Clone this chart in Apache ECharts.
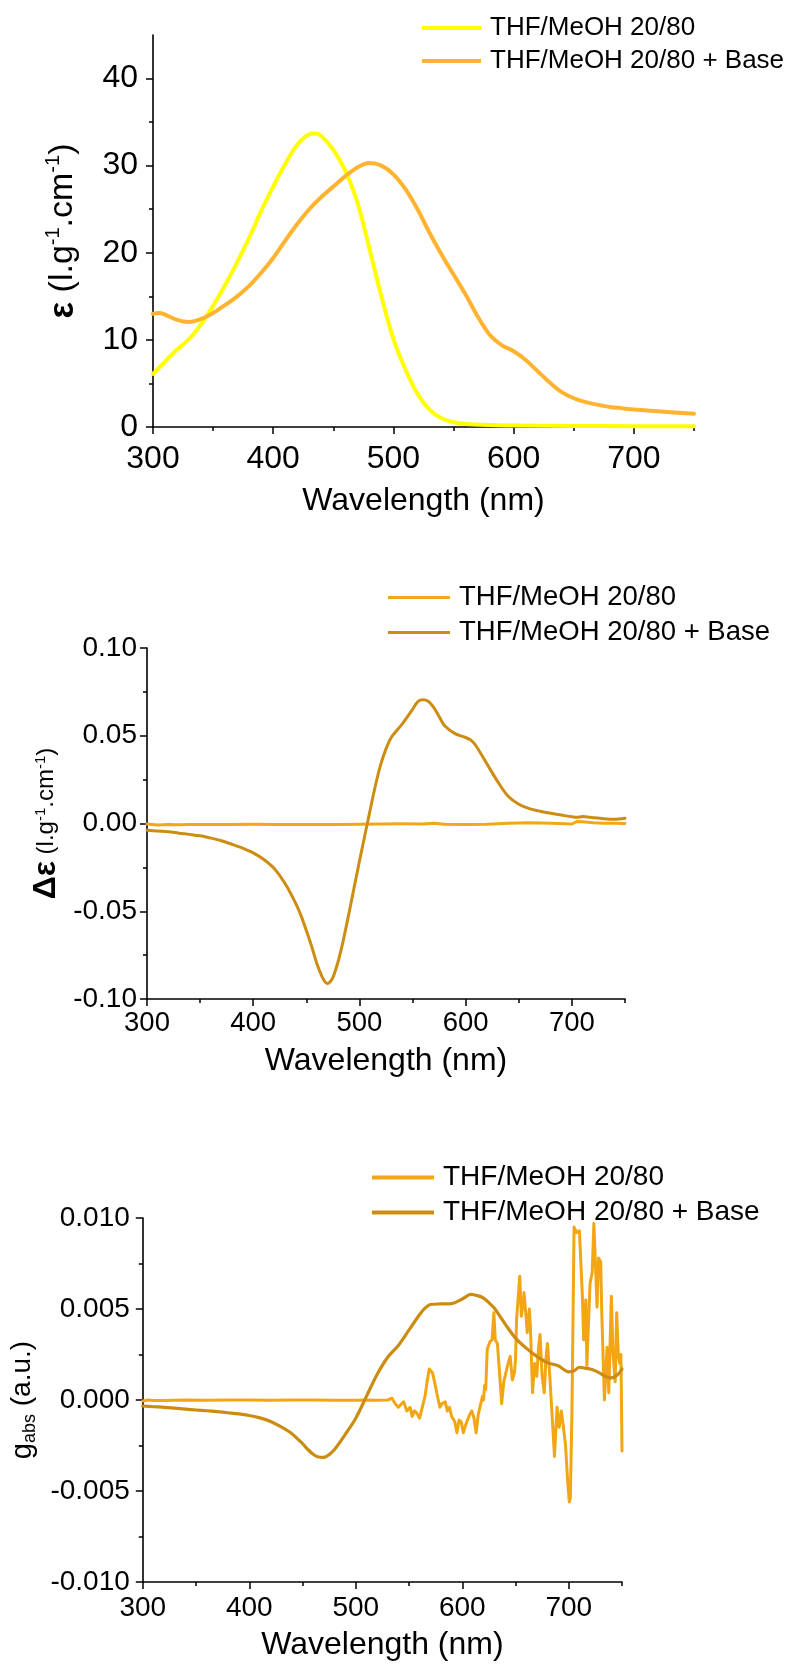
<!DOCTYPE html>
<html>
<head>
<meta charset="utf-8">
<title>Absorption, CD and g-factor spectra</title>
<script src="https://cdn.jsdelivr.net/npm/echarts@6/dist/echarts.min.js"></script>
<style>
  html, body { margin: 0; padding: 0; background: #fff; }
  body { width: 790px; height: 1670px; position: relative; overflow: hidden; }
  .panel { position: absolute; left: 0; width: 790px; }
  #absPanel { top: 0; height: 540px; }
  #cdPanel { top: 540px; height: 560px; }
  #gPanel { top: 1100px; height: 570px; }
</style>
</head>
<body>
<div id="absPanel" class="panel"></div>
<div id="cdPanel" class="panel"></div>
<div id="gPanel" class="panel"></div>
<script>
// ---------- series names ----------
const nameNeutral = 'THF/MeOH 20/80';
const nameBase = 'THF/MeOH 20/80 + Base';

// ---------- axis ticks ----------
const wlMajorTicks = [300, 400, 500, 600, 700];
const wlMinorTicks = [350, 450, 550, 650, 750];
const absMajorTicks = [0, 10, 20, 30, 40];
const absMinorTicks = [5, 15, 25, 35];
const cdMajorTicks = [-0.1, -0.05, 0, 0.05, 0.1];
const cdMinorTicks = [-0.075, -0.025, 0.025, 0.075];
const gMajorTicks = [-0.01, -0.005, 0, 0.005, 0.01];
const gMinorTicks = [-0.0075, -0.0025, 0.0025, 0.0075];

// ---------- absorption (epsilon, l.g-1.cm-1) ----------
const absWlNeutral = [300, 310, 320, 330, 340, 350, 360, 370, 380, 390, 400, 410, 420, 430, 435, 440, 450, 460, 470, 480, 490, 500, 510, 520, 530, 540, 550, 560, 580, 600, 650, 700, 750];
const absNeutral = [6.1, 7.5, 8.9, 10.1, 11.8, 13.9, 16.3, 18.9, 21.7, 24.8, 27.6, 30.2, 32.4, 33.6, 33.7, 33.4, 31.8, 29.4, 25.8, 20.5, 15.0, 10.1, 6.6, 3.8, 2.0, 1.0, 0.55, 0.35, 0.22, 0.18, 0.12, 0.1, 0.1];
const absWlBase = [300, 305, 310, 320, 330, 340, 350, 360, 370, 380, 390, 400, 410, 420, 430, 440, 450, 460, 470, 480, 490, 500, 510, 520, 530, 540, 550, 560, 570, 580, 590, 600, 610, 620, 630, 640, 650, 660, 670, 680, 690, 700, 720, 740, 750];
const absBase = [13.0, 13.1, 12.9, 12.3, 12.05, 12.4, 13.1, 14.0, 15.0, 16.2, 17.7, 19.4, 21.4, 23.3, 25.0, 26.4, 27.6, 28.8, 29.8, 30.3, 30.0, 29.0, 27.3, 25.0, 22.3, 19.8, 17.5, 15.2, 12.7, 10.6, 9.4, 8.7, 7.7, 6.4, 5.1, 4.0, 3.3, 2.85, 2.55, 2.3, 2.15, 2.0, 1.8, 1.6, 1.53];

// ---------- circular dichroism (delta epsilon) ----------
const cdWlNeutral = [300, 310, 320, 330, 340, 360, 380, 400, 420, 440, 460, 480, 500, 520, 540, 560, 570, 580, 600, 620, 640, 660, 680, 700, 705, 710, 720, 730, 740, 750];
const cdNeutral = [-0.0003, -0.0008, -0.0006, -0.0007, -0.0006, -0.0005, -0.0005, -0.0004, -0.0005, -0.0006, -0.0006, -0.0005, -0.0004, -0.0003, -0.0002, -0.0003, 0.0002, -0.0004, -0.0005, -0.0004, 0.0002, 0.0004, 0.0002, -0.0003, 0.0012, 0.0010, 0.0004, 0.0002, 0.0001, 0.0000];
const cdWlBase = [300, 310, 320, 330, 340, 350, 360, 370, 380, 390, 400, 410, 420, 430, 440, 445, 450, 455, 460, 465, 468, 470, 472, 475, 480, 485, 490, 495, 500, 505, 510, 515, 520, 525, 530, 540, 550, 555, 560, 565, 570, 575, 580, 590, 600, 605, 610, 620, 630, 640, 650, 660, 670, 680, 690, 700, 705, 710, 720, 730, 740, 750];
const cdBase = [-0.0038, -0.0043, -0.0047, -0.0055, -0.0062, -0.0070, -0.0083, -0.0098, -0.0118, -0.0140, -0.0167, -0.0205, -0.0258, -0.0342, -0.0455, -0.0525, -0.0610, -0.0700, -0.0800, -0.0875, -0.0905, -0.0912, -0.0905, -0.0878, -0.0785, -0.0660, -0.0515, -0.0365, -0.0215, -0.0070, 0.0075, 0.0215, 0.0335, 0.0425, 0.0490, 0.0565, 0.0650, 0.0695, 0.0705, 0.0695, 0.0660, 0.0610, 0.0558, 0.0512, 0.0490, 0.0475, 0.0440, 0.0340, 0.0240, 0.0155, 0.0110, 0.0085, 0.0070, 0.0058, 0.0048, 0.0038, 0.0035, 0.0040, 0.0033, 0.0027, 0.0024, 0.0030];

// ---------- dissymmetry factor g_abs ----------
const gWlNeutral = [300, 305, 310, 320, 340, 360, 380, 400, 420, 440, 460, 480, 500, 510, 520, 530, 534, 537, 540, 543, 545, 548, 551, 553, 555, 557, 560, 562, 565, 567, 569, 572, 574, 576, 579, 581, 584, 586, 588, 590, 593, 595, 597, 599, 601, 603, 605, 607, 609, 611, 613, 615, 617, 619, 620, 621, 622, 623.5, 626, 628, 629.7, 631, 633, 635, 637, 639, 641, 643, 645, 647, 649, 650, 651, 652, 654, 655.5, 657, 658, 660, 661, 663, 664, 666, 668, 670, 671.5, 673, 675, 677, 678.5, 680, 682, 684, 686.6, 689, 691, 693, 695, 697, 699, 700.5, 701.5, 703, 705, 707.5, 710, 712.8, 714, 716, 717, 720, 722, 723.6, 725, 726.6, 728, 730, 731, 733.5, 736, 737.6, 740, 741.5, 743.6, 745, 746.6, 748, 749, 750];
const gNeutral = [-0.00005, 0.0000, -0.00003, -0.00003, 0.0000, -0.00002, 0.0000, 0.0000, -0.00002, 0.0000, 0.0000, -0.00002, -0.00002, 0.0000, -0.00002, 0.0000, 0.0001, -0.0002, -0.0004, -0.0002, -0.0001, -0.0006, -0.0004, -0.0009, -0.0006, -0.0007, -0.0010, -0.0005, 0.0002, 0.0010, 0.0017, 0.0015, 0.0010, 0.0004, -0.0004, -0.0002, -0.0001, -0.0006, -0.0004, -0.0009, -0.0012, -0.0018, -0.0011, -0.0012, -0.0018, -0.0014, -0.0011, -0.0008, -0.0006, -0.0010, -0.0018, -0.0008, -0.0003, 0.0002, 0.0000, 0.0008, 0.0006, 0.0028, 0.0032, 0.0033, 0.0048, 0.0033, 0.0031, 0.0015, -0.0002, 0.0010, 0.0015, 0.0020, 0.0024, 0.0011, 0.0015, 0.0022, 0.0044, 0.0045, 0.0068, 0.0046, 0.0052, 0.0059, 0.0045, 0.0037, 0.0050, 0.0040, 0.0004, 0.0020, 0.0013, 0.0028, 0.0036, 0.0013, 0.0004, 0.0022, 0.0031, 0.0015, -0.0005, -0.0031, -0.0004, -0.0015, -0.0006, -0.0015, -0.0025, -0.0045, -0.0056, -0.0054, -0.0006, 0.0095, 0.0092, 0.0093, 0.0057, 0.0033, 0.0055, 0.0019, 0.0064, 0.0070, 0.0097, 0.0097, 0.0051, 0.0078, 0.0076, 0.0048, 0.0000, 0.0029, 0.0004, 0.0057, 0.0026, 0.0010, 0.0048, 0.0024, 0.0020, 0.0025, -0.0028];
const gWlBase = [300, 310, 320, 330, 340, 350, 360, 370, 380, 390, 400, 410, 420, 430, 440, 450, 455, 460, 465, 470, 475, 480, 490, 500, 510, 520, 530, 540, 550, 560, 565, 570, 580, 590, 600, 608, 615, 620, 625, 630, 640, 650, 660, 670, 680, 690, 700, 705, 710, 715, 720, 725, 730, 735, 740, 745, 750];
const gBase = [-0.00033, -0.00037, -0.00040, -0.00045, -0.00050, -0.00055, -0.00059, -0.00064, -0.00070, -0.00076, -0.00085, -0.00098, -0.00118, -0.00148, -0.00185, -0.00240, -0.00272, -0.00298, -0.00313, -0.00315, -0.00300, -0.00272, -0.00190, -0.00100, 0.00020, 0.00140, 0.00235, 0.00300, 0.00385, 0.00470, 0.00505, 0.00525, 0.00528, 0.00530, 0.00555, 0.00580, 0.00572, 0.00560, 0.00535, 0.00505, 0.00420, 0.00340, 0.00285, 0.00240, 0.00205, 0.00188, 0.00155, 0.00160, 0.00180, 0.00175, 0.00170, 0.00160, 0.00145, 0.00128, 0.00122, 0.00135, 0.00170];

// ---------- shared styling ----------
const FONT = '"Liberation Sans", Arial, Helvetica, sans-serif';
const zip = (xs, ys) => xs.map((x, i) => [x, ys[i]]);

function makePanel(el, p) {
  const chart = echarts.init(document.getElementById(el), null, { renderer: 'canvas' });
  const axisLine = { show: true, onZero: false, lineStyle: { color: '#000', width: 1.6 } };
  const tickLine = { color: '#000', width: 1.5 };
  const option = {
    animation: false,
    backgroundColor: '#fff',
    textStyle: { fontFamily: FONT, color: '#000' },
    grid: p.grid,
    legend: {
      orient: 'vertical',
      left: p.legend.left,
      top: p.legend.top,
      icon: 'rect',
      itemWidth: p.legend.itemWidth,
      itemHeight: p.legend.itemHeight,
      itemGap: p.legend.itemGap,
      selectedMode: false,
      textStyle: {
        fontFamily: FONT, fontSize: p.legend.fontSize, color: '#000',
        lineHeight: p.legend.lineHeight, padding: [0, 0, 0, 4]
      },
      data: [nameNeutral, nameBase]
    },
    xAxis: [
      {
        type: 'value', position: 'bottom', min: 300, max: 750, interval: 50,
        axisLine: axisLine,
        axisTick: { show: true, length: 7, lineStyle: tickLine, customValues: wlMajorTicks },
        axisLabel: {
          show: true, customValues: wlMajorTicks, fontSize: p.xLabelSize, margin: p.xLabelMargin,
          color: '#000', fontFamily: FONT
        },
        splitLine: { show: false },
        name: 'Wavelength (nm)', nameLocation: 'middle', nameGap: p.xNameGap,
        nameTextStyle: { fontSize: p.xNameSize, color: '#000', fontFamily: FONT }
      },
      {
        type: 'value', position: 'bottom', min: 300, max: 750, interval: 50,
        axisLine: { show: false, onZero: false },
        axisTick: { show: true, length: 4, lineStyle: tickLine, customValues: wlMinorTicks },
        axisLabel: { show: false },
        splitLine: { show: false }
      }
    ],
    yAxis: [
      {
        type: 'value', position: 'left', min: p.yMin, max: p.yMax, interval: p.yInterval,
        axisLine: axisLine,
        axisTick: { show: true, length: 7, lineStyle: tickLine, customValues: p.yMajor },
        axisLabel: {
          show: true, customValues: p.yMajor, fontSize: p.yLabelSize, margin: p.yLabelMargin,
          color: '#000', fontFamily: FONT, formatter: p.yFormat
        },
        splitLine: { show: false },
        name: p.yName, nameLocation: 'middle', nameRotate: 90, nameGap: p.yNameGap,
        nameTextStyle: { color: '#000', fontFamily: FONT, rich: p.yNameRich }
      },
      {
        type: 'value', position: 'left', min: p.yMin, max: p.yMax, interval: p.yInterval,
        axisLine: { show: false, onZero: false },
        axisTick: { show: true, length: 4, lineStyle: tickLine, customValues: p.yMinor },
        axisLabel: { show: false },
        splitLine: { show: false }
      }
    ],
    series: p.series.map(s => ({
      name: s.name,
      type: 'line',
      xAxisIndex: 0,
      yAxisIndex: 0,
      data: s.data,
      symbol: 'none',
      showSymbol: false,
      smooth: s.smooth,
      color: s.color,
      lineStyle: { color: s.color, width: s.width, join: 'round', cap: 'round' },
      emphasis: { disabled: true },
      z: s.z
    }))
  };
  chart.setOption(option);
  return chart;
}

// ---------- panel 1: absorption ----------
makePanel('absPanel', {
  grid: { left: 153, top: 35, width: 541, height: 392 },
  legend: { left: 417, top: 8, itemWidth: 59, itemHeight: 4, itemGap: 3, fontSize: 26, lineHeight: 30 },
  xLabelSize: 32, xLabelMargin: 16, xNameGap: 58, xNameSize: 32,
  yMin: 0, yMax: 45, yInterval: 5, yMajor: absMajorTicks, yMinor: absMinorTicks,
  yLabelSize: 32, yLabelMargin: 15, yFormat: v => String(v),
  yName: '{e|ε}{u| (l.g}{s|-1}{u|.cm}{s|-1}{u|)}',
  yNameGap: 70,
  yNameRich: {
    e: { fontSize: 35, fontWeight: 'bold', lineHeight: 40, fontFamily: FONT, color: '#000' },
    u: { fontSize: 34, lineHeight: 40, fontFamily: FONT, color: '#000' },
    s: { fontSize: 20, lineHeight: 20, verticalAlign: 'top', fontFamily: FONT, color: '#000' }
  },
  series: [
    { name: nameNeutral, data: zip(absWlNeutral, absNeutral), color: '#FFFF00', width: 4, smooth: 0.35, z: 2 },
    { name: nameBase, data: zip(absWlBase, absBase), color: '#FFB331', width: 4, smooth: 0.35, z: 3 }
  ]
});

// ---------- panel 2: circular dichroism ----------
makePanel('cdPanel', {
  grid: { left: 147, top: 108, width: 478, height: 351 },
  legend: { left: 383, top: 37, itemWidth: 62, itemHeight: 3, itemGap: 4, fontSize: 27.5, lineHeight: 31 },
  xLabelSize: 27.5, xLabelMargin: 10, xNameGap: 46, xNameSize: 32,
  yMin: -0.1, yMax: 0.1, yInterval: 0.025, yMajor: cdMajorTicks, yMinor: cdMinorTicks,
  yLabelSize: 28, yLabelMargin: 10, yFormat: v => v.toFixed(2),
  yName: '{e|Δε}{u| (l.g}{s|-1}{u|.cm}{s|-1}{u|)}',
  yNameGap: 76,
  yNameRich: {
    e: { fontSize: 32, fontWeight: 'bold', lineHeight: 36, fontFamily: FONT, color: '#000' },
    u: { fontSize: 24, lineHeight: 36, fontFamily: FONT, color: '#000' },
    s: { fontSize: 15, lineHeight: 15, verticalAlign: 'top', padding: [5, 0, 0, 0], fontFamily: FONT, color: '#000' }
  },
  series: [
    { name: nameNeutral, data: zip(cdWlNeutral, cdNeutral), color: '#F2A71A', width: 3, smooth: false, z: 2 },
    { name: nameBase, data: zip(cdWlBase, cdBase), color: '#CD8D12', width: 3, smooth: 0.3, z: 3 }
  ]
});

// ---------- panel 3: dissymmetry factor ----------
makePanel('gPanel', {
  grid: { left: 135, top: 118, width: 487, height: 364 },
  legend: { left: 367, top: 57, itemWidth: 62, itemHeight: 4, itemGap: 4, fontSize: 28, lineHeight: 31 },
  xLabelSize: 28, xLabelMargin: 12, xNameGap: 47, xNameSize: 32,
  yMin: -0.01, yMax: 0.01, yInterval: 0.0025, yMajor: gMajorTicks, yMinor: gMinorTicks,
  yLabelSize: 28, yLabelMargin: 13, yFormat: v => v.toFixed(3),
  yName: '{g|g}{b|abs}{u| (a.u.)}',
  yNameGap: 92,
  yNameRich: {
    g: { fontSize: 29, lineHeight: 34, fontFamily: FONT, color: '#000' },
    b: { fontSize: 18, lineHeight: 18, verticalAlign: 'bottom', fontFamily: FONT, color: '#000' },
    u: { fontSize: 28, lineHeight: 34, fontFamily: FONT, color: '#000' }
  },
  series: [
    { name: nameNeutral, data: zip(gWlNeutral, gNeutral), color: '#F2A614', width: 3, smooth: false, z: 2 },
    { name: nameBase, data: zip(gWlBase, gBase), color: '#CC8C12', width: 3.2, smooth: 0.3, z: 3 }
  ]
});
</script>
</body>
</html>
